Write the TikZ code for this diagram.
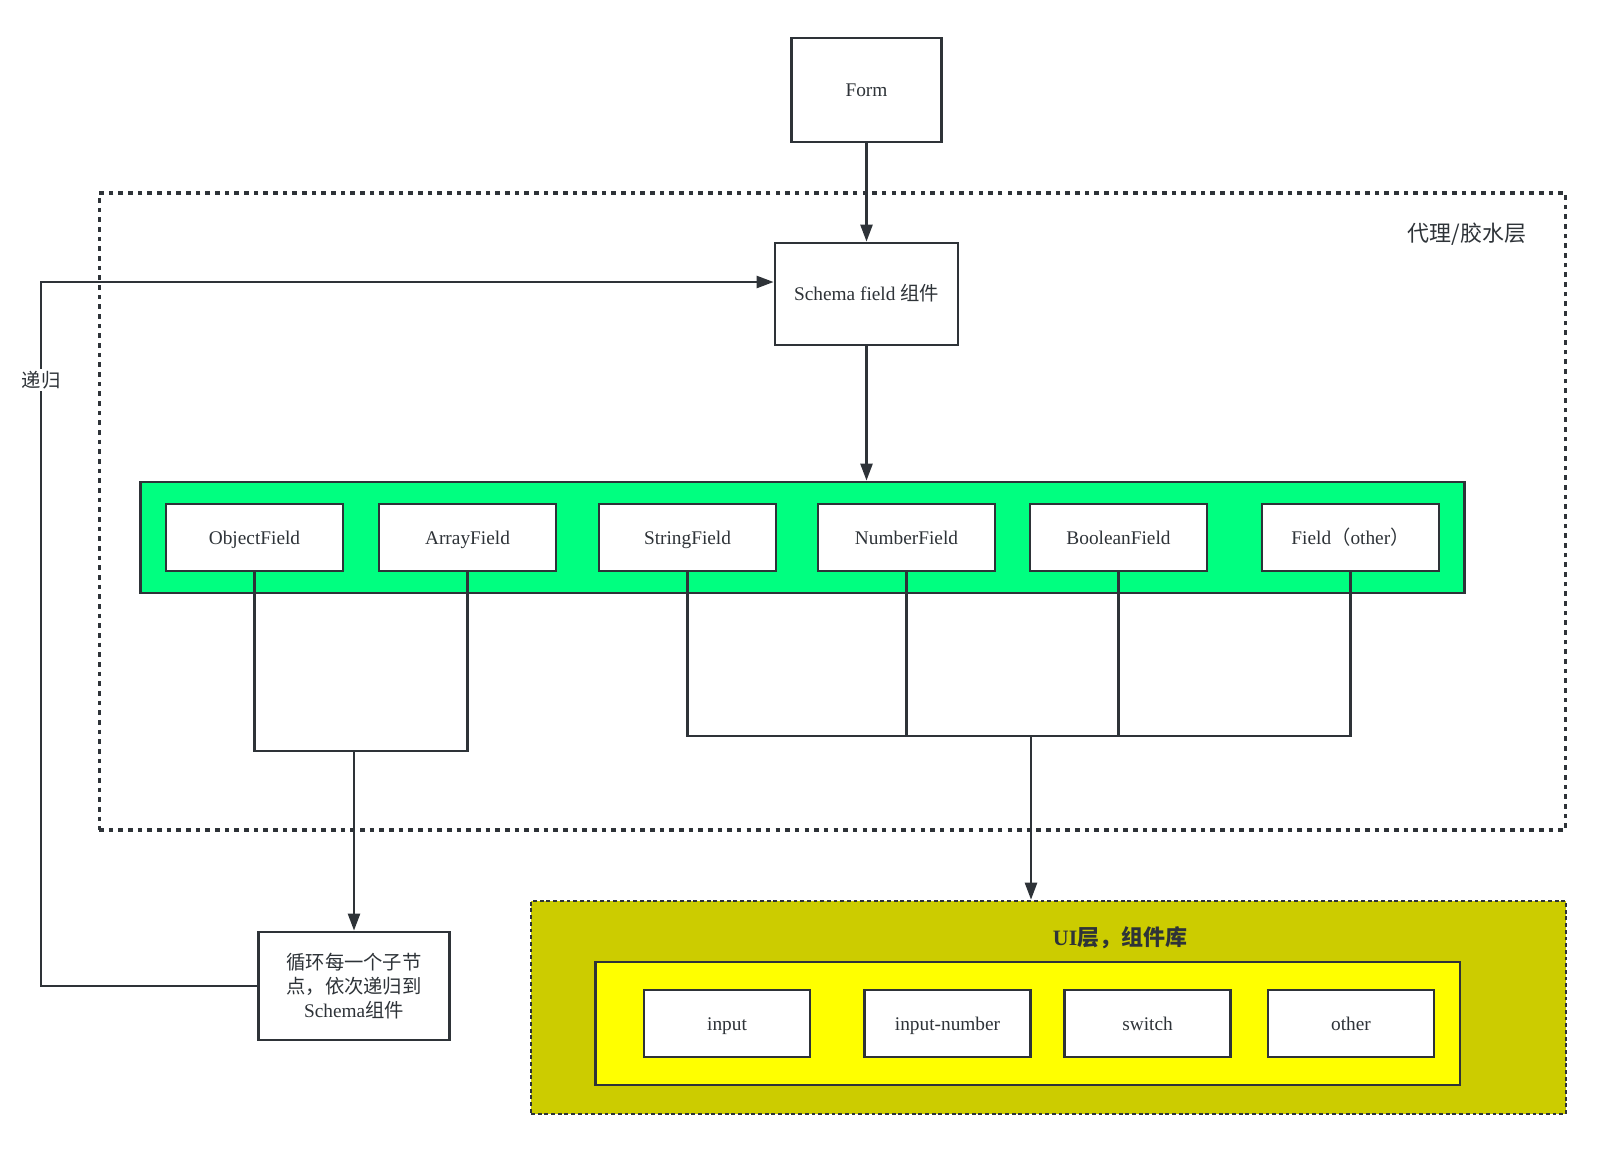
\documentclass[tikz,border=0pt]{standalone}
\usepackage{fontspec}
\setmainfont{Liberation Serif}
\newfontfamily\cjk{Noto Sans CJK SC}
\usepackage{tikz}
\usetikzlibrary{positioning,calc,arrows.meta}
\definecolor{ink}{HTML}{2E3338}
\definecolor{glue}{HTML}{00FF80}
\definecolor{olive}{HTML}{CCCC00}
\definecolor{lemon}{HTML}{FFFF00}

\begin{document}
\begin{tikzpicture}[x=0.02cm,y=-0.02cm,
    every node/.style={font=\fontsize{11}{14}\selectfont, text=ink},
    box/.style={draw=ink, line width=1.6pt, fill=white, inner sep=0pt},
    oneline/.style={text height=0.88em, text depth=0.12em},
    fieldbox/.style={box, oneline, minimum width=3.54cm, minimum height=1.34cm},
    uibox/.style={box, oneline, minimum width=3.32cm, minimum height=1.34cm},
    conn/.style={draw=ink, line width=1.4pt},
    flow/.style={conn, -{Triangle[length=0.34cm,width=0.24cm]}}]
    \useasboundingbox (0,0) rectangle (1604,1153);

    % Glue layer
    \node[draw=ink, line width=1.8pt, dash pattern=on 2.6pt off 2.9pt, minimum width=29.34cm, minimum height=12.74cm] (proxy) at (832.5,511.5) {};
    \node[font=\fontsize{12.5}{15}\selectfont\cjk] (proxylbl) at (1467,234) {代理/胶水层};

    % Form and schema field
    \node[box, oneline, minimum width=3.0cm, minimum height=2.08cm] (form) at (866.5,90) {Form};
    \node[box, oneline, minimum width=3.66cm, minimum height=2.04cm] (schema) at (866.5,294) {Schema field {\cjk 组件}};
    \draw[flow] (form) -- (schema);

    % Field components
    \node[draw=ink, line width=1.6pt, fill=glue, minimum width=26.5cm, minimum height=2.22cm] (fields) at (802.5,537.5) {};
    \node[fieldbox] (objf) at (254.5,537.5) {ObjectField};
    \node[fieldbox] (arrf) at (467.5,537.5) {ArrayField};
    \node[fieldbox] (strf) at (687.5,537.5) {StringField};
    \node[fieldbox] (numf) at (906.5,537.5) {NumberField};
    \node[fieldbox] (boolf) at (1118.5,537.5) {BooleanField};
    \node[fieldbox] (othf) at (1350.5,537.5) {Field{\cjk （}other{\cjk ）}};
    \draw[flow] (schema) -- (schema |- fields.north);

    % Recursion box
    \node[box, minimum width=3.82cm, minimum height=2.16cm, align=center, font=\fontsize{11}{13.5}\selectfont\cjk] (loop) at (354,986) {循环每一个子节\\点，依次递归到\\{\rmfamily Schema}组件};
    \coordinate (jl) at (354,751);
    \draw[conn] (objf.south) |- (jl) -| (arrf.south);
    \draw[flow] (jl) -- (loop.north);

    % Back to schema field
    \coordinate (turn) at (41,282);
    \draw[flow] (loop.west) -| (turn) -- (turn -| schema.west);
    \node[fill=white, inner sep=1pt, font=\fontsize{11}{13}\selectfont\cjk] (reclbl) at (41,380) {递归};

    % UI layer
    \node[draw=ink, line width=1.5pt, dash pattern=on 2.2pt off 1.6pt, fill=olive, minimum width=20.7cm, minimum height=4.26cm] (ui) at (1048.5,1007.5) {};
    \node[font=\fontsize{12.5}{15}\selectfont\cjk\bfseries] (uilbl) at (1120,938) {{\rmfamily\bfseries UI}层，组件库};
    \node[draw=ink, line width=1.6pt, fill=lemon, minimum width=17.3cm, minimum height=2.46cm] (lib) at (1027.5,1023.5) {};
    \node[uibox] (input) at (727,1023.5) {input};
    \node[uibox] (inum) at (947.5,1023.5) {input-number};
    \node[uibox] (switch) at (1147.5,1023.5) {switch};
    \node[uibox] (other) at (1351,1023.5) {other};

    % Simple fields to UI
    \coordinate (jr) at (1031,736);
    \draw[conn] (strf.south) |- (jr) -| (othf.south);
    \draw[conn] (numf.south) -- (numf.south |- jr);
    \draw[conn] (boolf.south) -- (boolf.south |- jr);
    \draw[flow] (jr) -- (jr |- ui.north);
\end{tikzpicture}
\end{document}
